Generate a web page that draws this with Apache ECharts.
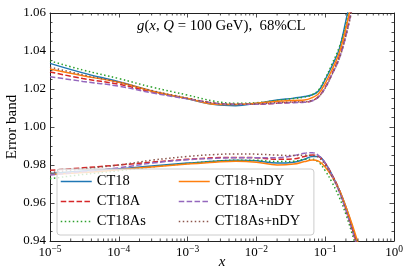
<!DOCTYPE html>
<html><head><meta charset="utf-8">
<script src="https://cdn.jsdelivr.net/npm/echarts@6/dist/echarts.min.js"></script>
<style>html,body{margin:0;padding:0;background:#fff}#c{width:407px;height:271px}</style>
</head><body><div id="c"></div>
<script>
// x grid (momentum fraction)
const xs = [1e-5, 3e-5, 1e-4, 3e-4, 1e-3, 2.5e-3, 5e-3, 1e-2, 2e-2, 3.5e-2, 5e-2, 6.5e-2, 8e-2, 0.1, 0.125, 0.16, 0.2, 0.25, 0.3];

// upper / lower error-band edges
const ct18Up     = [1.0335, 1.0285, 1.0238, 1.0190, 1.0148, 1.0118, 1.0112, 1.0125, 1.0142, 1.0152, 1.0160, 1.0170, 1.0190, 1.0250, 1.0320, 1.0410, 1.0560, 1.0720, 1.0850];
const ct18Lo     = [0.9755, 0.9768, 0.9780, 0.9795, 0.9810, 0.9820, 0.9825, 0.9822, 0.9810, 0.9815, 0.9830, 0.9845, 0.9845, 0.9810, 0.9750, 0.9670, 0.9580, 0.9470, 0.9370];
const ct18aUp    = [1.0290, 1.0255, 1.0225, 1.0185, 1.0150, 1.0125, 1.0120, 1.0120, 1.0125, 1.0130, 1.0130, 1.0140, 1.0160, 1.0210, 1.0280, 1.0370, 1.0490, 1.0650, 1.0800];
const ct18aLo    = [0.9772, 0.9785, 0.9800, 0.9815, 0.9830, 0.9838, 0.9840, 0.9838, 0.9830, 0.9833, 0.9845, 0.9853, 0.9845, 0.9810, 0.9750, 0.9670, 0.9570, 0.9460, 0.9360];
const ct18asUp   = [1.0348, 1.0300, 1.0255, 1.0210, 1.0168, 1.0135, 1.0125, 1.0128, 1.0140, 1.0150, 1.0158, 1.0170, 1.0195, 1.0255, 1.0330, 1.0420, 1.0540, 1.0690, 1.0830];
const ct18asLo   = [0.9728, 0.9750, 0.9770, 0.9790, 0.9808, 0.9820, 0.9825, 0.9825, 0.9818, 0.9820, 0.9830, 0.9830, 0.9815, 0.9770, 0.9710, 0.9630, 0.9540, 0.9430, 0.9330];
const ct18nUp    = [1.0305, 1.0270, 1.0235, 1.0190, 1.0150, 1.0120, 1.0118, 1.0125, 1.0135, 1.0140, 1.0142, 1.0155, 1.0175, 1.0230, 1.0300, 1.0390, 1.0520, 1.0680, 1.0820];
const ct18nLo    = [0.9750, 0.9760, 0.9775, 0.9790, 0.9805, 0.9815, 0.9820, 0.9815, 0.9800, 0.9805, 0.9818, 0.9826, 0.9820, 0.9790, 0.9740, 0.9670, 0.9580, 0.9480, 0.9390];
const ct18anUp   = [1.0265, 1.0240, 1.0215, 1.0180, 1.0148, 1.0125, 1.0120, 1.0120, 1.0125, 1.0128, 1.0130, 1.0138, 1.0158, 1.0205, 1.0275, 1.0360, 1.0480, 1.0640, 1.0790];
const ct18anLo   = [0.9747, 0.9765, 0.9785, 0.9810, 0.9828, 0.9835, 0.9838, 0.9838, 0.9838, 0.9850, 0.9862, 0.9865, 0.9850, 0.9810, 0.9745, 0.9660, 0.9560, 0.9450, 0.9350];
const ct18asnUp  = [1.0315, 1.0275, 1.0235, 1.0192, 1.0152, 1.0125, 1.0120, 1.0122, 1.0128, 1.0132, 1.0133, 1.0140, 1.0158, 1.0205, 1.0275, 1.0360, 1.0480, 1.0630, 1.0780];
const ct18asnLo  = [0.9760, 0.9780, 0.9800, 0.9825, 0.9845, 0.9855, 0.9858, 0.9857, 0.9852, 0.9850, 0.9852, 0.9850, 0.9840, 0.9800, 0.9740, 0.9660, 0.9560, 0.9450, 0.9350];

const xTickExponents = [-5, -4, -3, -2, -1, 0];
const yMin = 0.94, yMax = 1.06, yStep = 0.02;

const FONT = 'Liberation Serif';
const defs = [
  {name: 'CT18',       up: ct18Up,    lo: ct18Lo,    color: '#1f77b4', type: 'solid'},
  {name: 'CT18A',      up: ct18aUp,   lo: ct18aLo,   color: '#d62728', type: [5.5, 2.4]},
  {name: 'CT18As',     up: ct18asUp,  lo: ct18asLo,  color: '#2ca02c', type: [1.5, 2.5]},
  {name: 'CT18+nDY',   up: ct18nUp,   lo: ct18nLo,   color: '#ff7f0e', type: 'solid'},
  {name: 'CT18A+nDY',  up: ct18anUp,  lo: ct18anLo,  color: '#9467bd', type: [5.5, 2.4]},
  {name: 'CT18As+nDY', up: ct18asnUp, lo: ct18asnLo, color: '#8c564b', type: [1.5, 2.5]}
];

const series = [];
defs.forEach(d => {
  [d.up, d.lo].forEach(arr => {
    series.push({
      type: 'line', name: d.name, showSymbol: false, symbol: 'none', smooth: 0.4,
      color: d.color,
      lineStyle: {color: d.color, width: 1.5, type: d.type},
      data: xs.map((x, i) => [x, arr[i]]),
      z: 2
    });
  });
});

// minor log ticks (2..9 x decade)
const minorTicks = [];
xTickExponents.slice(0, -1).forEach(e => { for (let k = 2; k <= 9; k++) minorTicks.push([k * Math.pow(10, e), 1]); });
series.push({
  type: 'custom', silent: true, z: 5, clip: false,
  data: minorTicks,
  renderItem: (params, api) => {
    const x = api.value(0);
    const pb = api.coord([x, yMin]);
    const pt = api.coord([x, yMax]);
    const st = {stroke: '#222', lineWidth: 0.8};
    return {type: 'group', children: [
      {type: 'line', shape: {x1: pb[0], y1: pb[1], x2: pb[0], y2: pb[1] - 2.5}, style: st},
      {type: 'line', shape: {x1: pt[0], y1: pt[1], x2: pt[0], y2: pt[1] + 2.5}, style: st}
    ]};
  }
});

const axisLineStyle = {show: true, lineStyle: {color: '#222', width: 1}};
const xLabel = v => {
  const e = Math.round(Math.log10(v));
  return '{b|10}{s|' + (e < 0 ? '\u2212' + (-e) : e) + '}';
};
const xAxisBase = {
  type: 'log', min: 1e-5, max: 1, logBase: 10,
  axisLine: axisLineStyle,
  axisTick: {show: true, inside: true, length: 4.5, lineStyle: {color: '#222', width: 0.8}},
  splitLine: {show: false}, minorTick: {show: false}
};
const yAxisBase = {
  type: 'value', min: yMin, max: yMax, interval: yStep,
  axisLine: axisLineStyle,
  axisTick: {show: true, inside: true, length: 4.5, lineStyle: {color: '#222', width: 0.8}},
  minorTick: {show: true, splitNumber: 4, length: 2.5, lineStyle: {color: '#222', width: 0.8}},
  splitLine: {show: false}
};

const legendText = {fontFamily: FONT, fontSize: 14.5, color: '#000'};
const legendCommon = {
  orient: 'vertical', itemGap: 5, itemWidth: 31, itemHeight: 14, itemTextGap: 9,
  itemStyle: {opacity: 0}, lineStyle: {width: 1.5},
  textStyle: legendText
};
const option = {
  animation: false,
  backgroundColor: '#fff',
  grid: {left: 50, right: 13, top: 13, bottom: 30, containLabel: false, outerBoundsMode: 'none'},
  title: {
    text: '{i|g}({i|x}, {i|Q} = 100 GeV),  68%CL',
    left: 137, top: 19, padding: 0,
    textStyle: {fontFamily: FONT, fontSize: 14.8, fontWeight: 'normal', color: '#000',
      rich: {i: {fontFamily: FONT, fontSize: 14.8, fontStyle: 'italic', color: '#000'}}}
  },
  legend: [
    Object.assign({}, legendCommon, {
      data: ['CT18', 'CT18A', 'CT18As'], left: 57, top: 169,
      padding: [5, 168, 6, 3],
      backgroundColor: 'rgba(255,255,255,0.8)', borderColor: '#cccccc', borderWidth: 1, borderRadius: 3
    }),
    Object.assign({}, legendCommon, {
      data: ['CT18+nDY', 'CT18A+nDY', 'CT18As+nDY'], left: 178, top: 174, padding: 0
    })
  ],
  xAxis: [
    Object.assign({}, xAxisBase, {
      position: 'bottom',
      name: 'x', nameLocation: 'middle', nameGap: 14, nameMoveOverlap: false,
      nameTextStyle: {fontFamily: FONT, fontSize: 15, fontStyle: 'italic', color: '#000'},
      axisLabel: {show: true, margin: 3, showMinLabel: true, showMaxLabel: true, formatter: xLabel,
        rich: {b: {fontFamily: FONT, fontSize: 13, color: '#000'},
               s: {fontFamily: FONT, fontSize: 9.5, color: '#000', padding: [0, 0, 8, 0]}}}
    }),
    Object.assign({}, xAxisBase, {position: 'top', axisLabel: {show: false}})
  ],
  yAxis: [
    Object.assign({}, yAxisBase, {
      position: 'left',
      name: 'Error band', nameLocation: 'middle', nameGap: 30, nameRotate: 90, nameMoveOverlap: false,
      nameTextStyle: {fontFamily: FONT, fontSize: 15, color: '#000'},
      axisLabel: {show: true, margin: 4, fontFamily: FONT, fontSize: 13, color: '#000',
        formatter: v => v.toFixed(2)}
    }),
    Object.assign({}, yAxisBase, {position: 'right', axisLabel: {show: false}})
  ],
  series: series
};
const chart = echarts.init(document.getElementById('c'), null, {renderer: 'canvas'});
chart.setOption(option);
</script>
</body></html>
